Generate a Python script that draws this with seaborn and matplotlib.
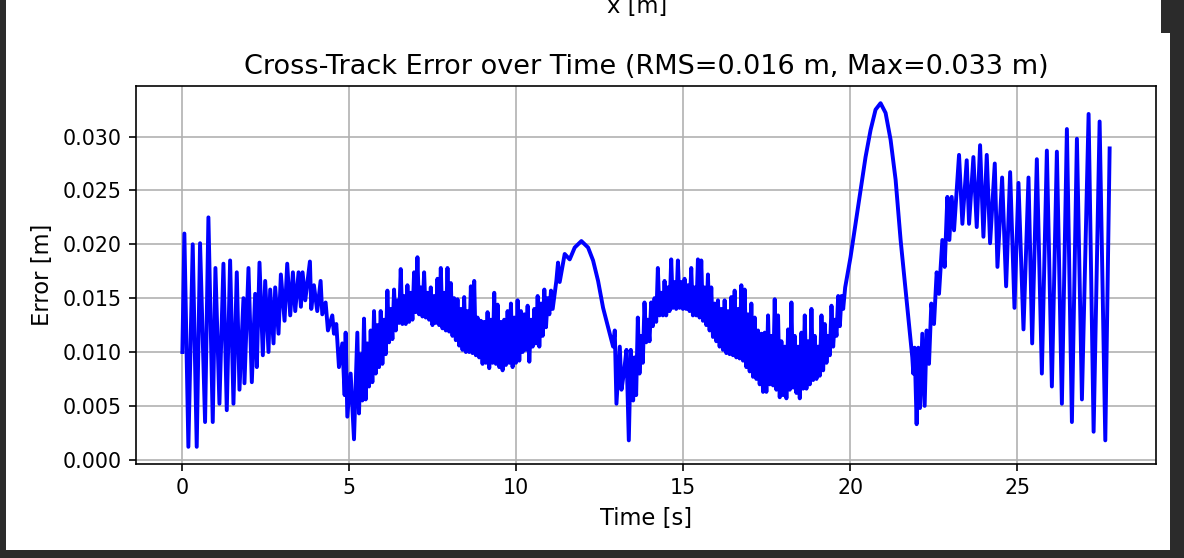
import matplotlib
matplotlib.use("Agg")
import matplotlib.pyplot as plt
from matplotlib.patches import Rectangle
import seaborn as sns

# cross-track error trace
# 0 - 5 s: large decaying swings
t_start = [
    0.00, 0.06, 0.18, 0.31, 0.43, 0.53, 0.68, 0.78, 0.91, 0.99,
    1.11, 1.23, 1.33, 1.43, 1.53, 1.63, 1.71, 1.83, 1.86, 1.98,
    2.08, 2.18, 2.23, 2.31, 2.41, 2.48, 2.58, 2.63, 2.73, 2.78,
    2.88, 2.95, 3.06, 3.14, 3.23, 3.31, 3.38, 3.48, 3.55, 3.60,
    3.68, 3.82, 3.86, 3.94, 4.04, 4.14, 4.19, 4.29, 4.36, 4.49,
    4.54, 4.61, 4.69, 4.79, 4.86, 4.89, 4.94, 5.04, 5.14,
]
e_start = [
    0.0100, 0.0210, 0.0012, 0.0200, 0.0012, 0.0201, 0.0035, 0.0225, 0.0035, 0.0178,
    0.0052, 0.0182, 0.0046, 0.0185, 0.0052, 0.0174, 0.0065, 0.0150, 0.0071, 0.0178,
    0.0072, 0.0154, 0.0086, 0.0183, 0.0097, 0.0166, 0.0100, 0.0158, 0.0108, 0.0160,
    0.0117, 0.0172, 0.0129, 0.0182, 0.0134, 0.0174, 0.0138, 0.0174, 0.0142, 0.0174,
    0.0148, 0.0184, 0.0140, 0.0162, 0.0138, 0.0166, 0.0135, 0.0146, 0.0120, 0.0134,
    0.0117, 0.0126, 0.0086, 0.0108, 0.0060, 0.0118, 0.0040, 0.0080, 0.0019,
]
# 5 - 11 s: dense jitter band
t_band1 = [
    5.24, 5.29, 5.34, 5.39, 5.44, 5.49, 5.54, 5.59, 5.64, 5.69,
    5.74, 5.79, 5.84, 5.89, 5.94, 5.99, 6.04, 6.09, 6.14, 6.19,
    6.24, 6.29, 6.34, 6.39, 6.44, 6.49, 6.54, 6.59, 6.64, 6.69,
    6.74, 6.79, 6.84, 6.89, 6.94, 6.99, 7.04, 7.09, 7.14, 7.19,
    7.24, 7.29, 7.34, 7.39, 7.44, 7.49, 7.54, 7.59, 7.64, 7.69,
    7.74, 7.79, 7.84, 7.89, 7.94, 7.99, 8.04, 8.09, 8.14, 8.19,
    8.24, 8.29, 8.34, 8.39, 8.44, 8.49, 8.54, 8.59, 8.64, 8.69,
    8.74, 8.79, 8.84, 8.89, 8.94, 8.99, 9.04, 9.09, 9.14, 9.19,
    9.24, 9.29, 9.34, 9.39, 9.44, 9.49, 9.54, 9.59, 9.64, 9.69,
    9.74, 9.79, 9.84, 9.89, 9.94, 9.99, 10.04, 10.09, 10.14, 10.19,
    10.24, 10.29, 10.34, 10.39, 10.44, 10.49, 10.54, 10.59, 10.64, 10.69,
    10.74, 10.79, 10.84, 10.89, 10.94, 10.99, 11.04, 11.09,
]
e_band1 = [
    0.0118, 0.0043, 0.0098, 0.0055, 0.0131, 0.0056, 0.0108, 0.0068, 0.0120, 0.0072,
    0.0138, 0.0080, 0.0125, 0.0086, 0.0138, 0.0089, 0.0130, 0.0098, 0.0157, 0.0109,
    0.0140, 0.0112, 0.0158, 0.0120, 0.0148, 0.0127, 0.0177, 0.0126, 0.0152, 0.0126,
    0.0162, 0.0128, 0.0155, 0.0130, 0.0174, 0.0137, 0.0188, 0.0135, 0.0160, 0.0133,
    0.0174, 0.0132, 0.0155, 0.0130, 0.0160, 0.0125, 0.0152, 0.0127, 0.0168, 0.0125,
    0.0178, 0.0122, 0.0155, 0.0120, 0.0178, 0.0119, 0.0164, 0.0115, 0.0150, 0.0111,
    0.0149, 0.0106, 0.0140, 0.0102, 0.0151, 0.0100, 0.0138, 0.0100, 0.0161, 0.0099,
    0.0166, 0.0097, 0.0132, 0.0095, 0.0129, 0.0089, 0.0128, 0.0090, 0.0137, 0.0085,
    0.0130, 0.0090, 0.0155, 0.0089, 0.0144, 0.0086, 0.0128, 0.0083, 0.0130, 0.0088,
    0.0138, 0.0090, 0.0145, 0.0086, 0.0132, 0.0090, 0.0148, 0.0092, 0.0138, 0.0100,
    0.0135, 0.0102, 0.0143, 0.0091, 0.0130, 0.0105, 0.0140, 0.0108, 0.0152, 0.0105,
    0.0145, 0.0115, 0.0158, 0.0123, 0.0150, 0.0135, 0.0157, 0.0140,
]
# 11 - 13.5 s: smooth hump and the dip
t_hump = [
    11.20, 11.25, 11.30, 11.45, 11.60, 11.75, 11.95, 12.15, 12.30, 12.45,
    12.60, 12.80, 12.90, 12.95, 13.00, 13.10, 13.15, 13.22, 13.30, 13.37,
    13.43, 13.50,
]
e_hump = [
    0.0166, 0.0183, 0.0165, 0.0191, 0.0186, 0.0197, 0.0203, 0.0197, 0.0185, 0.0166,
    0.0141, 0.0117, 0.0105, 0.0120, 0.0052, 0.0105, 0.0065, 0.0080, 0.0102, 0.0018,
    0.0102, 0.0055,
]
# 13.5 - 19.8 s: second jitter band
t_band2 = [
    13.54, 13.59, 13.64, 13.69, 13.74, 13.79, 13.84, 13.89, 13.94, 13.99,
    14.04, 14.09, 14.14, 14.19, 14.24, 14.29, 14.34, 14.39, 14.44, 14.49,
    14.54, 14.59, 14.64, 14.69, 14.74, 14.79, 14.84, 14.89, 14.94, 14.99,
    15.04, 15.09, 15.14, 15.19, 15.24, 15.29, 15.34, 15.39, 15.44, 15.49,
    15.54, 15.59, 15.64, 15.69, 15.74, 15.79, 15.84, 15.89, 15.94, 15.99,
    16.04, 16.09, 16.14, 16.19, 16.24, 16.29, 16.34, 16.39, 16.44, 16.49,
    16.54, 16.59, 16.64, 16.69, 16.74, 16.79, 16.84, 16.89, 16.94, 16.99,
    17.04, 17.09, 17.14, 17.19, 17.24, 17.29, 17.34, 17.39, 17.44, 17.49,
    17.54, 17.59, 17.64, 17.69, 17.74, 17.79, 17.84, 17.89, 17.94, 17.99,
    18.04, 18.09, 18.14, 18.19, 18.24, 18.29, 18.34, 18.39, 18.44, 18.49,
    18.54, 18.59, 18.64, 18.69, 18.74, 18.79, 18.84, 18.89, 18.94, 18.99,
    19.04, 19.09, 19.14, 19.19, 19.24, 19.29, 19.34, 19.39, 19.44, 19.49,
    19.54, 19.59, 19.64, 19.69, 19.74, 19.79,
]
e_band2 = [
    0.0095, 0.0060, 0.0132, 0.0080, 0.0115, 0.0090, 0.0146, 0.0109, 0.0130, 0.0110,
    0.0146, 0.0124, 0.0150, 0.0128, 0.0178, 0.0134, 0.0155, 0.0134, 0.0166, 0.0134,
    0.0160, 0.0138, 0.0186, 0.0141, 0.0165, 0.0140, 0.0185, 0.0141, 0.0165, 0.0140,
    0.0168, 0.0140, 0.0162, 0.0138, 0.0178, 0.0134, 0.0160, 0.0134, 0.0186, 0.0132,
    0.0185, 0.0129, 0.0160, 0.0125, 0.0172, 0.0120, 0.0160, 0.0114, 0.0145, 0.0110,
    0.0148, 0.0105, 0.0140, 0.0102, 0.0148, 0.0099, 0.0138, 0.0098, 0.0151, 0.0097,
    0.0157, 0.0095, 0.0140, 0.0094, 0.0162, 0.0092, 0.0158, 0.0086, 0.0135, 0.0082,
    0.0145, 0.0077, 0.0132, 0.0075, 0.0120, 0.0070, 0.0117, 0.0063, 0.0118, 0.0063,
    0.0134, 0.0070, 0.0115, 0.0069, 0.0149, 0.0065, 0.0134, 0.0058, 0.0110, 0.0060,
    0.0105, 0.0057, 0.0121, 0.0065, 0.0146, 0.0067, 0.0115, 0.0062, 0.0105, 0.0057,
    0.0118, 0.0066, 0.0134, 0.0066, 0.0110, 0.0070, 0.0140, 0.0074, 0.0115, 0.0075,
    0.0105, 0.0078, 0.0134, 0.0083, 0.0126, 0.0090, 0.0115, 0.0097, 0.0143, 0.0105,
    0.0130, 0.0115, 0.0152, 0.0124, 0.0152, 0.0140,
]
# 19.8 - 27.8 s: big peak, then growing swings
t_end = [
    19.85, 20.01, 20.16, 20.31, 20.46, 20.61, 20.76, 20.91, 21.06, 21.21,
    21.36, 21.51, 21.66, 21.76, 21.86, 21.89, 21.93, 21.99, 22.04, 22.09,
    22.16, 22.23, 22.29, 22.36, 22.43, 22.51, 22.59, 22.66, 22.76, 22.83,
    22.91, 22.97, 23.04, 23.11, 23.26, 23.36, 23.49, 23.56, 23.69, 23.79,
    23.89, 23.99, 24.09, 24.19, 24.33, 24.41, 24.55, 24.67, 24.79, 24.92,
    25.04, 25.19, 25.34, 25.45, 25.59, 25.74, 25.89, 26.04, 26.19, 26.34,
    26.49, 26.64, 26.79, 26.94, 27.14, 27.29, 27.47, 27.64, 27.77,
]
e_end = [
    0.0160, 0.0188, 0.0219, 0.0250, 0.0281, 0.0306, 0.0325, 0.0331, 0.0322, 0.0297,
    0.0260, 0.0204, 0.0157, 0.0126, 0.0095, 0.0080, 0.0104, 0.0033, 0.0104, 0.0048,
    0.0117, 0.0050, 0.0120, 0.0089, 0.0145, 0.0126, 0.0174, 0.0154, 0.0204, 0.0179,
    0.0244, 0.0204, 0.0244, 0.0213, 0.0283, 0.0219, 0.0278, 0.0219, 0.0281, 0.0216,
    0.0292, 0.0207, 0.0283, 0.0201, 0.0275, 0.0179, 0.0262, 0.0161, 0.0267, 0.0141,
    0.0257, 0.0121, 0.0262, 0.0108, 0.0279, 0.0080, 0.0287, 0.0068, 0.0286, 0.0052,
    0.0307, 0.0035, 0.0298, 0.0056, 0.0321, 0.0026, 0.0314, 0.0018, 0.0289,
]

time_s = t_start + t_band1 + t_hump + t_band2 + t_end
error_m = e_start + e_band1 + e_hump + e_band2 + e_end
assert len(time_s) == len(error_m)

title = "Cross-Track Error over Time (RMS=0.016 m, Max=0.033 m)"

# screenshot: dark frame around a white figure, scaled ~1.48x
W, H = 1184, 558
fig = plt.figure(figsize=(W / 148, H / 148), dpi=148, facecolor="#2b2b2b")
fig.patches.append(Rectangle((6 / W, 1 - 550 / H), (1170 - 6) / W, 550 / H,
                             transform=fig.transFigure, facecolor="white",
                             edgecolor="none", zorder=-2))
fig.patches.append(Rectangle((1161 / W, 1 - 33 / H), 9 / W, 33 / H,
                             transform=fig.transFigure, facecolor="#2b2b2b",
                             edgecolor="none", zorder=-1))

# x label of the plot above, cut by the crop
fig.text(637 / W, 1 - 13 / H, "x [m]", ha="center", va="baseline", fontsize=11)

ax = fig.add_axes([136 / W, 1 - 464 / H, (1156 - 136) / W, (464 - 86) / H])
sns.lineplot(x=time_s, y=error_m, ax=ax, color="blue", linewidth=1.9,
             estimator=None, sort=False)
ax.grid(True)
ax.set_title(title, fontsize=13.2)
ax.set_xlabel("Time [s]", fontsize=11)
ax.set_ylabel("Error [m]", fontsize=11)
ax.set_yticks([0.0, 0.005, 0.010, 0.015, 0.020, 0.025, 0.030])
ax.set_xticks([0, 5, 10, 15, 20, 25])

fig.savefig("out.png", dpi=148, facecolor=fig.get_facecolor())
